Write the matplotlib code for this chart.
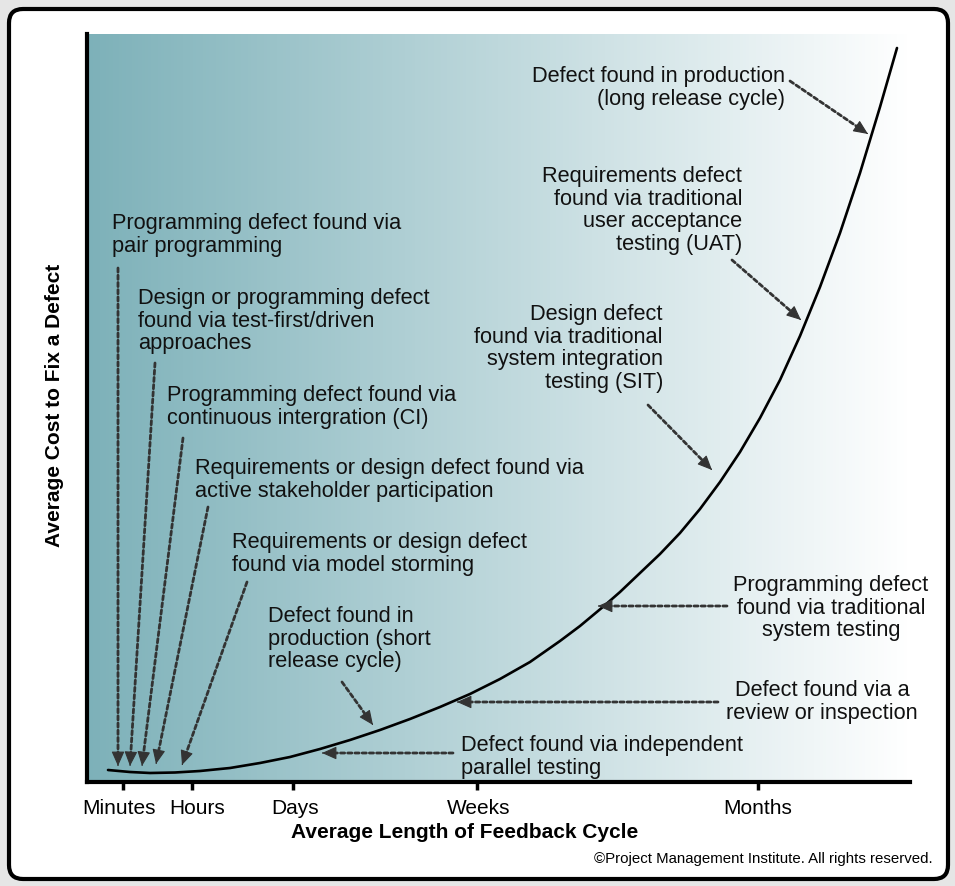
import numpy as np
import matplotlib
matplotlib.use("Agg")
import matplotlib.pyplot as plt
from matplotlib.patches import FancyBboxPatch
from matplotlib.transforms import IdentityTransform, ScaledTranslation

plt.rcParams['font.family'] = ['Liberation Sans', 'DejaVu Sans']

#
# Courbe : cout moyen de correction selon la longueur du cycle de retour (unites arbitraires)
#
cycle = [21, 43, 63, 88, 113, 143, 173, 203, 233, 263, 293, 323, 353, 383, 413,
         443, 473, 493, 517, 533, 553, 573, 593, 613, 633, 653, 673, 693, 713,
         733, 753, 773, 793, 810]
cout = [12, 10, 9, 9.5, 11, 14, 19, 25, 33, 42, 52, 63, 75, 88, 103,
        120, 141, 156, 176, 190, 209, 228, 249, 273, 300, 330, 364, 402, 446,
        495, 549, 609, 675, 734]

tick_pos = [36, 105, 206, 390, 671]
tick_labels = ["Minutes", "Hours", "Days", "Weeks", "Months"]
tick_shift = [-4.5, 5, 2, 2, 0]   # petit decalage des libelles (pixels)

#
# Annotations : texte, ancre du texte, alignement, debut et pointe de la fleche
#
notes = [
    "Programming defect found via\npair programming",
    "Design or programming defect\nfound via test-first/driven\napproaches",
    "Programming defect found via\ncontinuous intergration (CI)",
    "Requirements or design defect found via\nactive stakeholder participation",
    "Requirements or design defect\nfound via model storming",
    "Defect found in\nproduction (short\nrelease cycle)",
    "Defect found via independent\nparallel testing",
    "Defect found via a\nreview or inspection",
    "Programming defect\nfound via traditional\nsystem testing",
    "Design defect\nfound via traditional\nsystem integration\ntesting (SIT)",
    "Requirements defect\nfound via traditional\nuser acceptance\ntesting (UAT)",
    "Defect found in production\n(long release cycle)",
]
note_xy = [(25, 569), (51, 494), (80, 397), (108, 324), (145, 250), (181, 176),
           (374, 47), (735, 102), (744, 207), (576, 478), (655, 616), (698, 716)]
note_align = ["left", "left", "left", "left", "left", "left",
              "left", "center", "center", "right", "right", "right"]
arrow_from = [(31, 514), (68, 419), (96, 344), (121, 275), (160, 200), (255, 100),
              (366, 29), (631, 80), (640, 176), (561, 377), (645, 522), (703, 701)]
arrow_to = [(31, 16), (43, 16), (55, 16), (69, 18), (95, 17), (286, 57),
            (235, 29), (370, 80), (511, 176), (625, 312), (714, 462), (781, 648)]

W, H = 955, 886
fig = plt.figure(figsize=(W / 100, H / 100), dpi=100)
fig.patch.set_facecolor("#e6e6e6")

# cadre blanc arrondi
cadre = FancyBboxPatch((9, 7), 939, 870, boxstyle="round,pad=0,rounding_size=14",
                       transform=IdentityTransform(), facecolor="white",
                       edgecolor="black", linewidth=3, zorder=0)
fig.add_artist(cadre)

ax = fig.add_axes([87 / W, (H - 782) / H, (910 - 87) / W, (782 - 34) / H])
ax.set_xlim(0, 823)
ax.set_ylim(0, 748)
ax.patch.set_alpha(0)

# degrade de fond
grad = np.linspace(0, 1, 256).reshape(1, -1)
cmap = matplotlib.colors.LinearSegmentedColormap.from_list("fond", ["#7db1b9", "#ffffff"])
ax.imshow(grad, extent=(0, 823, 0, 748), aspect="auto", cmap=cmap, zorder=0)

ax.plot(cycle, cout, color="black", lw=1.9, zorder=3, solid_capstyle="round",
        solid_joinstyle="round")

for txt, xy, al, a, b in zip(notes, note_xy, note_align, arrow_from, arrow_to):
    ax.text(xy[0], xy[1], txt, ha=al, va="top", fontsize=15.7, color="#111111",
            linespacing=1.1, zorder=4)
    # trait pointille
    ax.annotate("", xy=b, xytext=a,
                arrowprops=dict(arrowstyle="-", lw=2.0, ls=(0, (1.5, 1.1)),
                                color="#333333", shrinkA=0, shrinkB=6),
                zorder=4)
    # pointe pleine
    u = np.subtract(b, a) / np.hypot(*np.subtract(b, a))
    ax.annotate("", xy=b, xytext=(b[0] - u[0], b[1] - u[1]),
                arrowprops=dict(arrowstyle="-|>,head_length=0.45,head_width=0.2",
                                lw=0.8, color="#333333", shrinkA=0, shrinkB=0,
                                mutation_scale=20),
                zorder=4)

for s in ["top", "right"]:
    ax.spines[s].set_visible(False)
ax.spines["left"].set_linewidth(3)
ax.spines["bottom"].set_linewidth(3)
ax.set_yticks([])
ax.set_xticks(tick_pos)
ax.set_xticklabels(tick_labels, fontsize=15)
ax.tick_params(axis="x", length=6, width=2.5, pad=6, colors="black")
for lab, dx in zip(ax.get_xticklabels(), tick_shift):
    lab.set_transform(lab.get_transform() + ScaledTranslation(dx / 100, 0, fig.dpi_scale_trans))

fig.text(465 / W, 1 - 832 / H, "Average Length of Feedback Cycle", ha="center",
         va="center", fontsize=15, fontweight="bold")
fig.text(54 / W, 1 - 405 / H, "Average Cost to Fix a Defect", ha="center",
         va="center", fontsize=15, fontweight="bold", rotation=90)
fig.text(933 / W, 1 - 859 / H, "\u00a9Project Management Institute. All rights reserved.",
         ha="right", va="center", fontsize=10.8)

fig.savefig("out.png", dpi=100)
